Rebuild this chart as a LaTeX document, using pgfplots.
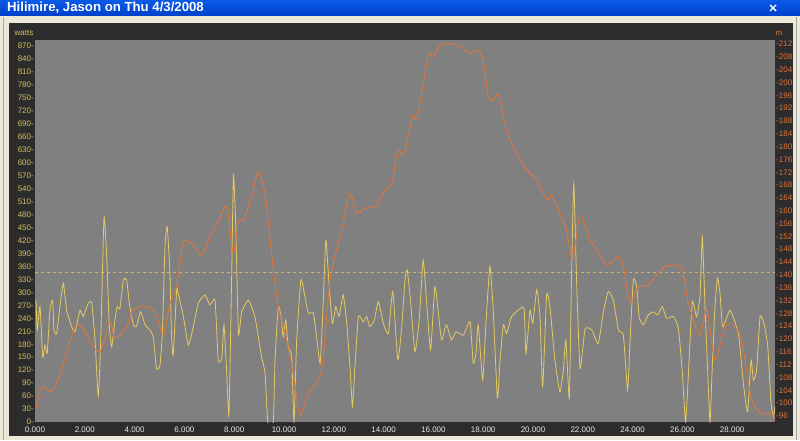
\documentclass[border=0pt]{standalone}
\usepackage{pgfplots}
\pgfplotsset{compat=1.18}
\usepackage{fontspec}
\setmainfont{Liberation Sans}

\definecolor{winbeige}{HTML}{ECE9D8}
\definecolor{titletop}{HTML}{0A5AE8}
\definecolor{titlebot}{HTML}{0040C8}
\definecolor{panel}{HTML}{2C2C2C}
\definecolor{plotgray}{HTML}{808080}
\definecolor{wattcol}{HTML}{D8BE5C}
\definecolor{elevcol}{HTML}{E2743A}
\definecolor{powercol}{HTML}{E6CA60}
\definecolor{dashcol}{HTML}{D6B65A}
\definecolor{xlabcol}{HTML}{E8E8E8}

\begin{document}
\begin{tikzpicture}[x=1pt,y=1pt]
\useasboundingbox (0,0) rectangle (800,440);
% window frame
\fill[winbeige] (0,0) rectangle (800,440);
\draw[gray!70] (3.5,0) -- (3.5,423);
\draw[gray!70] (796.5,0) -- (796.5,423);
\shade[top color=titletop, bottom color=titlebot] (0,424) rectangle (800,440);
\node[anchor=west, text=white, inner sep=0pt, font=\bfseries\fontsize{13.2}{15}\selectfont] at (7,432) {Hilimire, Jason on Thu 4/3/2008};
\draw[white, line width=1.4pt] (770,429) -- (776,435) (770,435) -- (776,429);
\fill[panel] (9,4) rectangle (793,417);
\fill[plotgray] (35,18) rectangle (775,400);
\node[text=wattcol, inner sep=0pt, font=\fontsize{8}{9}\selectfont] at (24,407) {watts};
\node[text=elevcol, inner sep=0pt, font=\fontsize{8}{9}\selectfont] at (779,407) {m};

% power (left axis) and x axis
\begin{axis}[
    at={(35pt,18pt)}, anchor=south west,
    scale only axis, width=740pt, height=382pt,
    xmin=0, xmax=29.72, ymin=0, ymax=884.3,
    axis line style={draw=none}, major tick length=0pt,
    /pgf/number format/assume math mode=true,
    xtick={0,2,...,28},
    xticklabel style={text=xlabcol, font=\fontsize{8}{9}\selectfont, anchor=north, inner sep=0pt, yshift=-4.5pt,
        /pgf/number format/fixed, /pgf/number format/fixed zerofill, /pgf/number format/precision=3},
    ytick={0,30,...,870},
    yticklabel={\pgfmathprintnumber{\tick}-},
    yticklabel style={text=wattcol, font=\fontsize{8}{9}\selectfont, anchor=east, inner sep=0pt, xshift=-1pt},
]
\addplot[dashcol, line width=0.9pt, dash pattern=on 3pt off 3pt] coordinates {(0,346) (29.72,346)};
\addplot[powercol, line width=0.8pt, smooth, tension=0.3] coordinates {
(0.04,282)(0.09,213)(0.20,267)(0.31,151)(0.40,178)(0.49,159)(0.60,259)(0.71,282)(0.76,213)(0.87,205)
(1.00,267)(1.14,321)(1.27,259)(1.47,221)(1.61,209)(1.81,259)(1.94,244)(2.14,275)(2.28,275)(2.41,190)
(2.54,59)(2.64,190)(2.77,472)(2.88,383)(2.98,228)(3.08,174)(3.21,236)(3.30,267)(3.41,263)(3.55,329)
(3.68,329)(3.79,275)(3.95,225)(4.08,221)(4.24,255)(4.42,225)(4.62,213)(4.75,197)(4.88,124)(5.02,132)
(5.12,213)(5.22,406)(5.31,452)(5.42,344)(5.48,205)(5.55,155)(5.69,306)(5.75,298)(5.96,244)(6.16,178)
(6.36,221)(6.56,275)(6.82,294)(7.03,271)(7.23,282)(7.36,144)(7.50,147)(7.59,225)(7.70,113)(7.79,16)
(7.90,344)(7.97,572)(8.06,460)(8.17,205)(8.30,255)(8.57,282)(8.83,244)(9.10,151)(9.24,113)(9.35,0)
(9.57,0)(9.64,144)(9.77,267)(9.88,244)(9.97,197)(10.07,236)(10.17,174)(10.31,151)(10.40,0)(10.51,190)
(10.68,329)(10.84,290)(10.98,252)(11.18,252)(11.31,197)(11.45,136)(11.54,228)(11.68,421)(11.78,344)(11.94,228)
(12.08,267)(12.21,244)(12.38,294)(12.52,228)(12.65,128)(12.75,36)(12.85,128)(12.99,244)(13.18,232)(13.32,244)
(13.45,221)(13.63,236)(13.79,279)(13.99,228)(14.19,205)(14.37,302)(14.57,144)(14.73,221)(14.86,329)(14.95,352)
(15.08,282)(15.26,163)(15.43,236)(15.59,375)(15.73,275)(15.89,167)(16.06,313)(16.20,252)(16.33,190)(16.51,225)
(16.60,213)(16.73,190)(16.91,209)(17.20,201)(17.47,232)(17.60,136)(17.71,159)(17.80,225)(17.98,97)(18.11,228)
(18.27,360)(18.41,252)(18.57,55)(18.68,144)(18.81,225)(18.94,205)(19.14,244)(19.41,259)(19.64,263)(19.72,159)
(19.88,259)(19.99,228)(20.15,306)(20.28,244)(20.39,82)(20.55,294)(20.68,267)(20.88,144)(21.08,70)(21.22,120)
(21.32,190)(21.46,55)(21.55,344)(21.64,553)(21.75,329)(21.89,124)(22.09,215)(22.36,213)(22.62,182)(22.82,252)
(23.02,302)(23.23,282)(23.43,213)(23.63,201)(23.80,74)(23.90,190)(24.03,329)(24.17,313)(24.26,244)(24.43,225)
(24.63,248)(24.83,255)(25.01,248)(25.19,267)(25.37,240)(25.64,244)(25.84,217)(26.00,113)(26.13,0)(26.27,144)
(26.40,279)(26.57,244)(26.71,294)(26.80,429)(26.91,267)(27.02,113)(27.11,0)(27.20,128)(27.31,267)(27.41,333)
(27.51,298)(27.61,221)(27.74,236)(27.91,259)(28.09,236)(28.27,197)(28.45,89)(28.62,24)(28.76,144)(28.85,97)
(28.98,120)(29.12,244)(29.29,225)(29.43,174)(29.56,43)(29.66,12)(29.72,36)
};
\end{axis}

% elevation (right axis)
\begin{axis}[
    at={(35pt,18pt)}, anchor=south west,
    scale only axis, width=740pt, height=382pt,
    xmin=0, xmax=29.72, ymin=94.13, ymax=213.24,
    axis line style={draw=none}, major tick length=0pt,
    /pgf/number format/assume math mode=true,
    xtick=\empty,
    yticklabel pos=right,
    ytick={96,100,...,212},
    yticklabel={-\pgfmathprintnumber{\tick}},
    yticklabel style={text=elevcol, font=\fontsize{8}{9}\selectfont, anchor=west, inner sep=0pt, xshift=1pt},
]
\addplot[elevcol, line width=0.9pt, smooth, tension=0.4] coordinates {
(0.04,98.4)(0.27,105.1)(0.67,103.6)(1.07,110.3)(1.34,117.6)(1.61,123.8)(1.87,124.1)(2.21,119.2)(2.61,116)
(3.01,125.4)(3.21,120.2)(3.68,123.8)(3.95,129.1)(4.42,130.3)(4.82,128.5)(5.15,121.3)(5.42,131.1)(5.69,136.3)
(5.96,150.3)(6.36,149.3)(6.69,146.2)(7.03,151.9)(7.43,157.6)(7.63,161.3)(7.76,159.2)(7.96,146.7)(8.17,156.6)
(8.37,157.1)(8.70,164.4)(8.97,172.2)(9.24,165.4)(9.50,146.7)(9.77,130.1)(10.11,119.7)(10.37,109.3)(10.64,96.3)
(10.98,103.1)(11.51,110.3)(11.85,138.4)(12.32,154)(12.65,165.4)(12.92,159.2)(13.25,160.8)(13.65,161.3)(14.06,166.5)
(14.33,168.6)(14.57,178.9)(14.79,177.4)(14.99,183.1)(15.19,189.9)(15.33,188.3)(15.53,196.6)(15.80,208.6)(16.00,208)
(16.20,211.2)(16.67,212.2)(17.07,211.2)(17.47,209.1)(17.80,210.1)(18.00,207)(18.20,195.6)(18.41,194.5)(18.61,196.1)
(18.94,185.2)(19.35,177.9)(19.75,172.7)(20.15,169.6)(20.55,163.4)(20.75,164.9)(21.08,159.2)(21.35,154)(21.59,144.6)
(21.89,158.7)(22.29,150.9)(22.49,148.8)(22.96,143.1)(23.43,145.7)(23.63,142.6)(23.90,131.1)(24.23,136.3)(24.63,136.8)
(25.30,142.6)(25.97,142.1)(26.24,131.1)(26.71,121.3)(26.98,129.1)(27.31,113.5)(27.71,123.8)(28.04,124.4)(28.38,119.7)
(28.78,101)(29.18,96.8)(29.59,96.8)(29.72,94.8)
};
\end{axis}
\end{tikzpicture}
\end{document}
